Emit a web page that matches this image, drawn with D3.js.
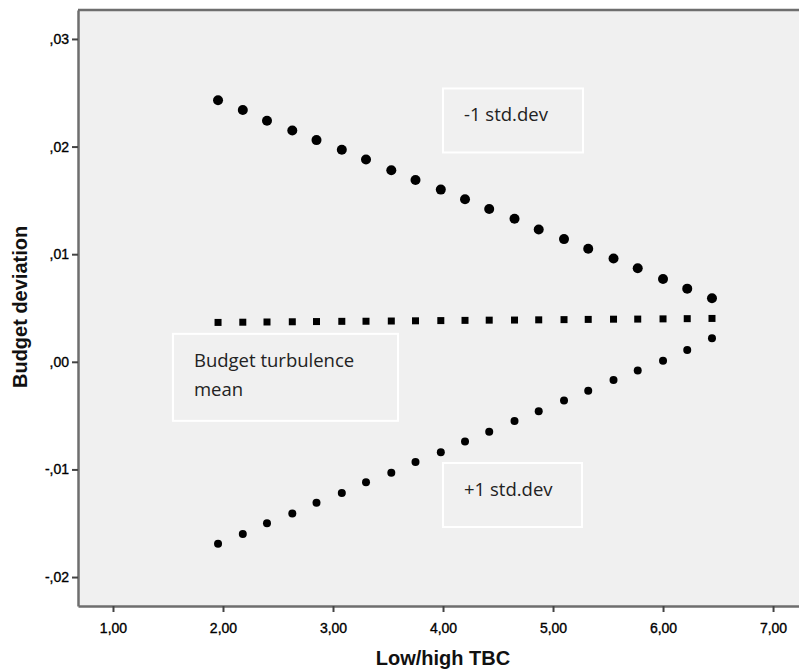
<!DOCTYPE html>
<html>
<head>
<meta charset="utf-8">
<script src="https://cdn.jsdelivr.net/npm/d3@7"></script>
<style>
  body { margin: 0; background: #fff; }
  .tick text { font-family: "Liberation Sans", Arial, sans-serif; font-size: 14px; fill: #000; stroke: #000; stroke-width: 0.35px; }
  .axisTitle { font-family: "Liberation Sans", Arial, sans-serif; font-size: 20px; font-weight: bold; fill: #111; }
  .note { font-family: "Open Sans", "Noto Sans", sans-serif; font-size: 18.5px; fill: #222; }
</style>
</head>
<body>
<div id="chart"></div>
<script>
var svgWidth = 799;
var svgHeight = 671;

var margin = { top: 10, right: 0, bottom: 65, left: 78 };
var width = svgWidth - margin.left - margin.right;
var height = svgHeight - margin.top - margin.bottom;

// x positions (Low/high TBC)
var tbc = [1.955, 2.18, 2.40, 2.63, 2.85, 3.08, 3.30, 3.53, 3.75, 3.98, 4.20,
           4.42, 4.65, 4.87, 5.10, 5.32, 5.55, 5.77, 6.00, 6.22, 6.445];

// -1 std.dev
var minusSD = [0.0243, 0.0234, 0.0224, 0.0215, 0.0206, 0.0197, 0.0188, 0.0178, 0.0169, 0.0160, 0.0151,
               0.0142, 0.0133, 0.0123, 0.0114, 0.0105, 0.0096, 0.0087, 0.0077, 0.0068, 0.0059];
// mean
var meanLine = [0.00366, 0.00368, 0.00370, 0.00372, 0.00374, 0.00376, 0.00377, 0.00379, 0.00381, 0.00383, 0.00385,
                0.00387, 0.00388, 0.00390, 0.00392, 0.00394, 0.00396, 0.00397, 0.00399, 0.00401, 0.00403];
// +1 std.dev
var plusSD = [-0.0169, -0.0160, -0.0150, -0.0141, -0.0131, -0.0122, -0.0112, -0.0103, -0.0093, -0.0084, -0.0074,
              -0.0065, -0.0055, -0.0046, -0.0036, -0.0027, -0.0017, -0.0008, 0.0001, 0.0011, 0.0022];

var xTicks = [1, 2, 3, 4, 5, 6, 7];
var yTicks = [-0.02, -0.01, 0, 0.01, 0.02, 0.03];

var notes = [
  { lines: ["-1 std.dev"], x: 4.0, y: 0.0254, w: 140, h: 64 },
  { lines: ["+1 std.dev"], x: 4.0, y: -0.0094, w: 139, h: 64 },
  { lines: ["Budget turbulence", "mean"], x: 1.545, y: 0.0026, w: 225, h: 87 }
];

var fmt = function(d, digits) {
  var s = d3.format("." + digits + "f")(Math.abs(d)).replace(".", ",");
  if (s.charAt(0) === "0" && digits === 2) s = s.slice(1);
  return (d < 0 ? "-" : "") + s;
};

var svg = d3.select("#chart")
  .append("svg")
  .attr("width", svgWidth)
  .attr("height", svgHeight);

var chartGroup = svg.append("g")
  .attr("transform", `translate(${margin.left}, ${margin.top})`);

var xScale = d3.scaleLinear().domain([0.682, 7.236]).range([0, width]);
var yScale = d3.scaleLinear().domain([-0.02269, 0.03269]).range([height, 0]);

// plot background
chartGroup.append("rect")
  .attr("width", width)
  .attr("height", height)
  .attr("fill", "#f0f0f0");

// text boxes
notes.forEach(function(n) {
  var g = chartGroup.append("g")
    .attr("transform", `translate(${xScale(n.x)}, ${yScale(n.y)})`);
  g.append("rect")
    .attr("width", n.w)
    .attr("height", n.h)
    .attr("fill", "none")
    .attr("stroke", "#fff")
    .attr("stroke-width", 2);
  n.lines.forEach(function(t, i) {
    g.append("text")
      .attr("class", "note")
      .attr("x", 21)
      .attr("y", 33 + i * 29)
      .text(t);
  });
});

// series
var upper = tbc.map(function(d, i) { return { x: d, y: minusSD[i] }; });
var mid = tbc.map(function(d, i) { return { x: d, y: meanLine[i] }; });
var lower = tbc.map(function(d, i) { return { x: d, y: plusSD[i] }; });

chartGroup.selectAll(".up").data(upper).enter()
  .append("circle")
  .attr("class", "up")
  .attr("cx", function(d) { return xScale(d.x); })
  .attr("cy", function(d) { return yScale(d.y); })
  .attr("r", 5)
  .attr("fill", "#000");

chartGroup.selectAll(".mid").data(mid).enter()
  .append("rect")
  .attr("class", "mid")
  .attr("x", function(d) { return xScale(d.x) - 3.5; })
  .attr("y", function(d) { return yScale(d.y) - 3.5; })
  .attr("width", 7)
  .attr("height", 7)
  .attr("fill", "#000");

chartGroup.selectAll(".low").data(lower).enter()
  .append("circle")
  .attr("class", "low")
  .attr("cx", function(d) { return xScale(d.x); })
  .attr("cy", function(d) { return yScale(d.y); })
  .attr("r", 4)
  .attr("fill", "#000");

// axes
var bottomAxis = d3.axisBottom(xScale).tickValues(xTicks).tickSize(6).tickSizeOuter(0)
  .tickFormat(function(d) { return fmt(d, 2); });
var leftAxis = d3.axisLeft(yScale).tickValues(yTicks).tickSize(6).tickSizeOuter(0)
  .tickFormat(function(d) { return fmt(d, 2); });

var xg = chartGroup.append("g")
  .attr("transform", `translate(0, ${height})`)
  .call(bottomAxis);
var yg = chartGroup.append("g")
  .call(leftAxis);

[xg, yg].forEach(function(g) {
  g.select(".domain").attr("stroke", "#6e6e6e").attr("stroke-width", 2.5);
  g.selectAll(".tick line").attr("stroke", "#444").attr("stroke-width", 2);
});
xg.selectAll(".tick text").attr("dy", "1.25em");
yg.selectAll(".tick text").attr("x", -9);

// top frame line
chartGroup.append("line")
  .attr("x1", 0).attr("x2", width)
  .attr("y1", 0).attr("y2", 0)
  .attr("stroke", "#6e6e6e")
  .attr("stroke-width", 2.5);

// axis titles
chartGroup.append("text")
  .attr("class", "axisTitle")
  .attr("transform", "rotate(-90)")
  .attr("x", -(yScale(0.0051)))
  .attr("y", 27 - margin.left)
  .attr("text-anchor", "middle")
  .text("Budget deviation");

chartGroup.append("text")
  .attr("class", "axisTitle")
  .attr("x", xScale(4.0))
  .attr("y", height + 59)
  .attr("text-anchor", "middle")
  .text("Low/high TBC");
</script>
</body>
</html>
